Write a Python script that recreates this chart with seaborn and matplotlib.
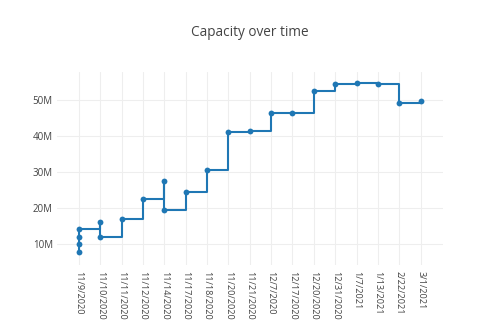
import matplotlib
matplotlib.use("Agg")
import matplotlib.pyplot as plt
import matplotlib.ticker as mticker
import seaborn as sns
import pandas as pd

categories = ["11/9/2020", "11/10/2020", "11/11/2020", "11/12/2020", "11/14/2020",
              "11/17/2020", "11/18/2020", "11/20/2020", "11/21/2020", "12/7/2020",
              "12/17/2020", "12/20/2020", "12/31/2020", "1/7/2021", "1/13/2021",
              "2/22/2021", "3/1/2021"]

dates = ["11/9/2020", "11/9/2020", "11/9/2020", "11/9/2020",
         "11/10/2020", "11/10/2020",
         "11/11/2020", "11/12/2020",
         "11/14/2020", "11/14/2020",
         "11/17/2020", "11/18/2020", "11/20/2020", "11/21/2020", "12/7/2020",
         "12/17/2020", "12/20/2020", "12/31/2020", "1/7/2021", "1/13/2021",
         "2/22/2021", "3/1/2021"]

capacity = [7.9e6, 10.1e6, 11.9e6, 14.1e6,
            16.0e6, 12.0e6,
            17.1e6, 22.5e6,
            27.6e6, 19.5e6,
            24.5e6, 30.7e6, 41.2e6, 41.3e6, 46.4e6,
            46.4e6, 52.5e6, 54.5e6, 54.6e6, 54.4e6,
            49.3e6, 49.7e6]

y_ticks = [10e6, 20e6, 30e6, 40e6, 50e6]

df = pd.DataFrame({"date": dates, "capacity": capacity})
df["pos"] = [categories.index(d) for d in df["date"]]

sns.set_style("white")
plt.rcParams["font.family"] = ["Open Sans", "DejaVu Sans"]

fig = plt.figure(figsize=(5.0, 3.21), dpi=100)
ax = fig.add_axes([0.114, 0.1745, 0.772, 0.6015])

color = "#1f77b4"
sns.lineplot(data=df, x="pos", y="capacity", estimator=None, sort=False,
             drawstyle="steps-post", color=color, linewidth=1.5, ax=ax,
             marker="o", markersize=4.2, markeredgewidth=0, zorder=3)

ax.set_xlim(-1.03, 17.05)
ax.set_ylim(4.2e6, 57.8e6)
ax.set_xticks(range(len(categories)))
ax.set_xticklabels(categories, rotation=270, fontsize=6.6, color="#444444")
ax.set_yticks(y_ticks)
ax.yaxis.set_major_formatter(mticker.FuncFormatter(lambda v, p: f"{int(round(v/1e6))}M"))
ax.tick_params(axis="y", labelsize=7, labelcolor="#444444", length=0, pad=3)
ax.tick_params(axis="x", length=0, pad=4)
for lbl in ax.get_xticklabels():
    lbl.set_verticalalignment("top")

ax.grid(True, color="#eeeeee", linewidth=0.8)
ax.set_axisbelow(True)
for s in ax.spines.values():
    s.set_visible(False)
ax.set_xlabel("")
ax.set_ylabel("")

fig.text(0.5, 1 - 32 / 321, "Capacity over time", ha="center", va="center",
         fontsize=9.8, color="#444444")

fig.savefig("out.png", dpi=100)
